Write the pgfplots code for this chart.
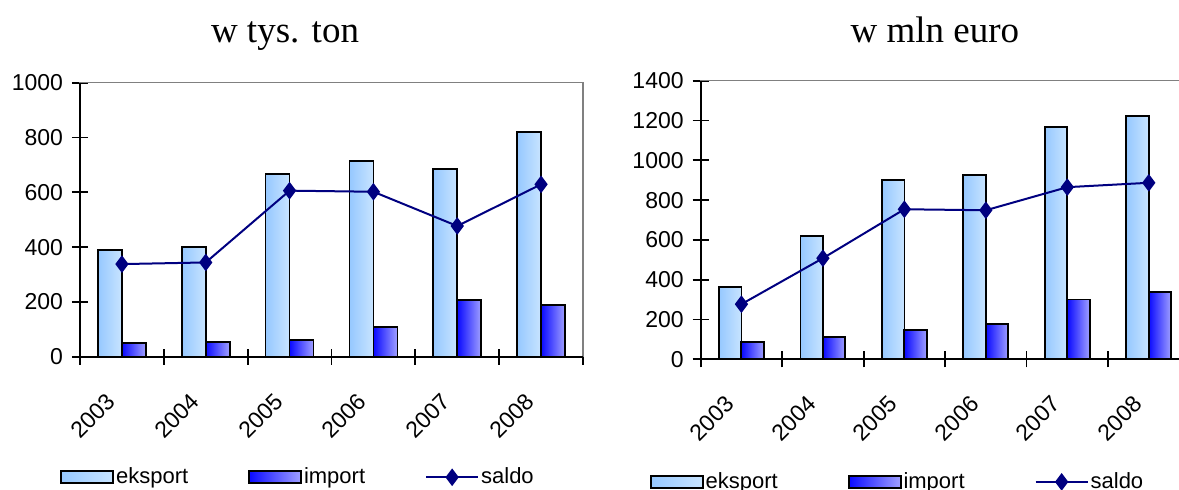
\documentclass[border=0pt]{standalone}
\usepackage{fontspec}
\setmainfont{Liberation Sans}
\newfontfamily\timesfont{Liberation Serif}
\usepackage{pgfplots}
\pgfplotsset{compat=1.18}
\definecolor{eksA}{RGB}{150,200,255}
\definecolor{eksB}{RGB}{200,228,255}
\definecolor{impA}{RGB}{10,10,255}
\definecolor{impB}{RGB}{160,160,255}
\definecolor{saldoc}{RGB}{0,0,128}

\pgfplotsset{
  mystyle/.style={
    scale only axis,
    xmin=-0.5, xmax=5.5, ymin=0,
    xtick={0,1,2,3,4,5},
    xticklabels={2003,2004,2005,2006,2007,2008},
    minor xtick={-0.5,0.5,1.5,2.5,3.5,4.5,5.5},
    major x tick style={draw=none},
    minor x tick style={black, line width=0.9pt},
    major y tick style={black, line width=0.9pt},
    xtick pos=bottom, ytick pos=left,
    tick align=center,
    major tick length=8pt, minor tick length=8pt,
    axis line style={draw=gray, line width=0.7pt},
    tick label style={font=\fontsize{11.5}{13}\selectfont},
    /pgf/number format/assume math mode=true,
    /pgf/number format/1000 sep={},
    yticklabel style={xshift=-1pt},
    xticklabel style={xshift=-3pt, yshift=-14pt, rotate=45, anchor=east},
    extra description/.code={\draw[black,line width=1pt] (0,1) -- (0,0) -- (1,0);},
    every axis title shift=0pt,
    title style={font=\timesfont\fontsize{18.5}{20}\selectfont, anchor=base},
    legend columns=3,
    legend cell align=left,
    legend style={draw=none, fill=none, inner sep=0pt, anchor=west,
      nodes={inner sep=1pt, font=\fontsize{11}{13}\selectfont}},
  },
  barlegend/.style={legend image code/.code={\draw[##1] (0pt,-3pt) rectangle (26pt,3pt);}},
  linelegend/.style={legend image code/.code={\draw[##1, mark repeat=2, mark phase=2] plot coordinates {(0pt,0pt) (13pt,0pt) (26pt,0pt)};}},
  eks/.style={ybar, forget plot, draw=black, line width=0.9pt, left color=eksA, right color=eksB},
  imp/.style={ybar, forget plot, draw=black, line width=0.9pt, left color=impA, right color=impB},
  sal/.style={color=saldoc, line width=1pt, mark=diamond*, mark size=3.6pt, mark options={fill=saldoc}},
}

\begin{document}
\begin{tikzpicture}
\useasboundingbox (0,0) rectangle (589.5pt,244.5pt);
\clip (0,0) rectangle (589.5pt,244.5pt);

% ---------- left: w tys. ton ----------
\begin{axis}[mystyle,
  at={(40pt,66.15pt)}, anchor=south west,
  width=251.5pt, height=137pt,
  ymax=1000, ytick={0,200,400,600,800,1000},
  title={w tys. ton},
  title style={at={(axis description cs:0.4076,1.145)}},
  legend style={at={(axis description cs:-0.04,-0.44)},
    /tikz/every even column/.append style={column sep=29pt}},
  bar width=12pt,
]
\addlegendimage{barlegend, draw=black, line width=0.9pt, left color=eksA, right color=eksB}
\addlegendentry{eksport}
\addlegendimage{barlegend, draw=black, line width=0.9pt, left color=impA, right color=impB}
\addlegendentry{import}
% eksport
\addplot[eks, bar shift=-6pt] coordinates {(0,390)};
\addplot[eks, bar shift=-6pt] coordinates {(1,401)};
\addplot[eks, bar shift=-6pt] coordinates {(2,668)};
\addplot[eks, bar shift=-6pt] coordinates {(3,713)};
\addplot[eks, bar shift=-6pt] coordinates {(4,685)};
\addplot[eks, bar shift=-6pt] coordinates {(5,820)};
% import
\addplot[imp, bar shift=6pt] coordinates {(0,50)};
\addplot[imp, bar shift=6pt] coordinates {(1,55)};
\addplot[imp, bar shift=6pt] coordinates {(2,61)};
\addplot[imp, bar shift=6pt] coordinates {(3,109)};
\addplot[imp, bar shift=6pt] coordinates {(4,207)};
\addplot[imp, bar shift=6pt] coordinates {(5,189)};
% saldo
\addplot[sal, linelegend]
  coordinates {(0,338) (1,344) (2,606) (3,602) (4,477) (5,629)};
\addlegendentry{saldo}
\end{axis}

% ---------- right: w mln euro ----------
\begin{axis}[mystyle,
  at={(350.35pt,64.85pt)}, anchor=south west,
  width=244.4pt, height=139.3pt,
  ymax=1400, ytick={0,200,400,600,800,1000,1200,1400},
  title={w mln euro},
  title style={at={(axis description cs:0.479,1.137)}},
  legend style={at={(axis description cs:-0.105,-0.44)},
    /tikz/every even column/.append style={column sep=34pt}},
  bar width=11.25pt,
]
\addlegendimage{barlegend, draw=black, line width=0.9pt, left color=eksA, right color=eksB}
\addlegendentry{eksport}
\addlegendimage{barlegend, draw=black, line width=0.9pt, left color=impA, right color=impB}
\addlegendentry{import}
% eksport
\addplot[eks, bar shift=-5.6pt] coordinates {(0,365)};
\addplot[eks, bar shift=-5.6pt] coordinates {(1,620)};
\addplot[eks, bar shift=-5.6pt] coordinates {(2,900)};
\addplot[eks, bar shift=-5.6pt] coordinates {(3,925)};
\addplot[eks, bar shift=-5.6pt] coordinates {(4,1166)};
\addplot[eks, bar shift=-5.6pt] coordinates {(5,1224)};
% import
\addplot[imp, bar shift=5.6pt] coordinates {(0,88)};
\addplot[imp, bar shift=5.6pt] coordinates {(1,112)};
\addplot[imp, bar shift=5.6pt] coordinates {(2,146)};
\addplot[imp, bar shift=5.6pt] coordinates {(3,176)};
\addplot[imp, bar shift=5.6pt] coordinates {(4,301)};
\addplot[imp, bar shift=5.6pt] coordinates {(5,337)};
% saldo
\addplot[sal, linelegend]
  coordinates {(0,277) (1,508) (2,754) (3,749) (4,865) (5,887)};
\addlegendentry{saldo}
\end{axis}
\end{tikzpicture}
\end{document}
